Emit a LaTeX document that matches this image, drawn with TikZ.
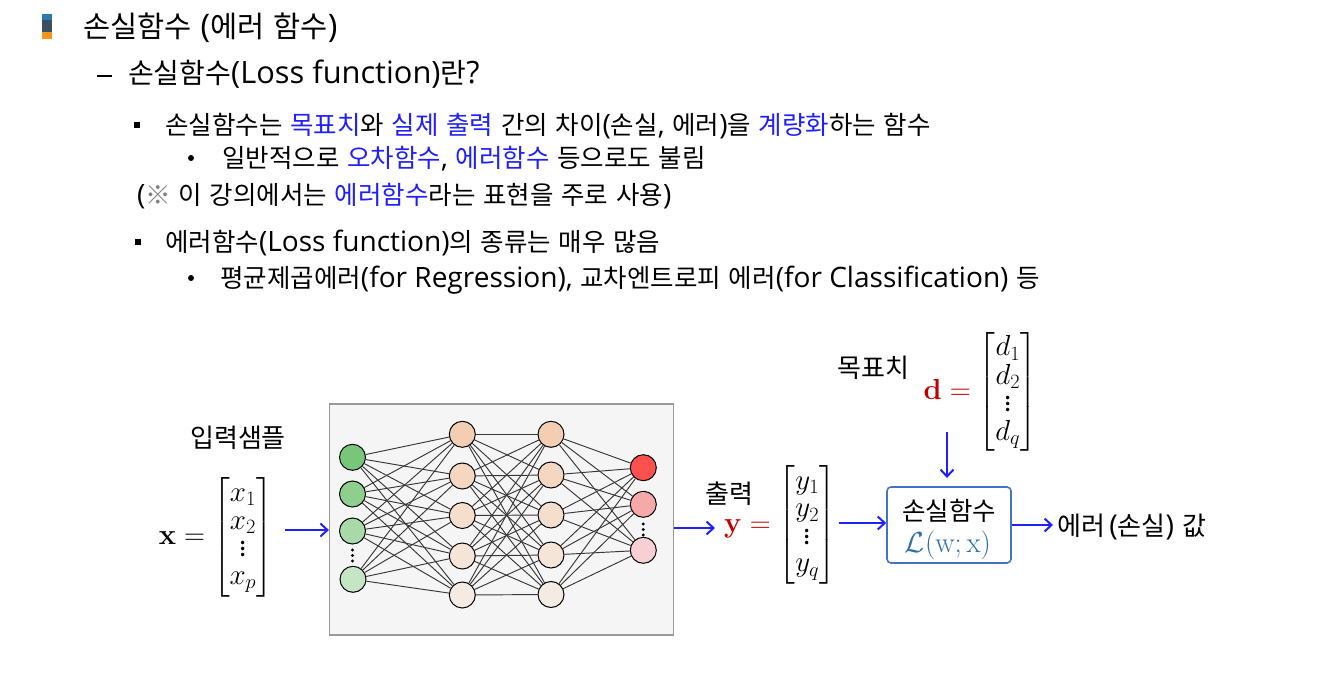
\RequirePackage{fix-cm}
\documentclass[tikz,border=0pt]{standalone}
\usepackage{amsmath}
\usepackage[no-math]{fontspec}
\setmainfont{Noto Sans CJK KR}[WordSpace=1.35]
\newfontfamily\lat{Open Sans}[Scale=1.1]
\usetikzlibrary{arrows.meta}
\definecolor{tblue}{HTML}{1F1FFF}
\definecolor{ablue}{HTML}{1F1FFF}
\definecolor{dred}{HTML}{C00000}
\definecolor{lossblue}{HTML}{2E6FA8}
\definecolor{boxblue}{HTML}{4472C4}
\definecolor{icA}{HTML}{2B7BB0}
\definecolor{icB}{HTML}{3D4F5F}
\definecolor{icC}{HTML}{F7941D}
\definecolor{in1}{HTML}{78C679}
\definecolor{in2}{HTML}{8ECF8E}
\definecolor{in3}{HTML}{A8DAA8}
\definecolor{in4}{HTML}{C5E6C5}
\definecolor{hd1}{HTML}{F4CEB2}
\definecolor{hd2}{HTML}{F5D7C1}
\definecolor{hd3}{HTML}{F5DECB}
\definecolor{hd4}{HTML}{F5E5D8}
\definecolor{hd5}{HTML}{F4EBE3}
\definecolor{ou1}{HTML}{FF5050}
\definecolor{ou2}{HTML}{F7A9AA}
\definecolor{ou3}{HTML}{F8CFD3}
\newcommand{\hl}[1]{\textcolor{tblue}{#1}}
\newcommand{\fs}[1]{\fontsize{#1}{#1}\selectfont}
\newcommand{\mfs}{\fontsize{29}{30}\selectfont\renewcommand{\arraystretch}{0.92}}
\newcommand{\vd}{\vbox{\baselineskip=6pt\lineskiplimit=0pt\kern2pt\hbox{\fs{26}.}\hbox{\fs{26}.}\hbox{\fs{26}.}}}
\begin{document}
\begin{tikzpicture}[x=1pt,y=-1pt,
  txt/.style={anchor=base west, inner sep=0pt},
  arr/.style={draw=ablue, line width=2pt, -{Straight Barb[length=7pt,width=13pt]}},
  nn/.style={circle, draw=black, line width=1pt, minimum size=26pt, inner sep=0pt},
  nnedge/.style={draw=black!78, line width=0.95pt},
  dotm/.style={circle, fill=black, inner sep=0pt, minimum size=3.2pt},
]
\fill[white] (0,0) rectangle (1321,692);
\useasboundingbox (0,0) rectangle (1321,692);

% title icon
\fill[icA] (42,14) rectangle (52,20);
\fill[icB] (42,20) rectangle (52,32);
\fill[icC] (42,32) rectangle (52,39);

\node[txt, font=\fs{29.5}] (title) at (83,38) {손실함수 {\lat(}에러 함수{\lat)}};

\draw[line width=1.5pt] (97,76) -- (112,76);
\node[txt, font=\fs{28}] (l2) at (128,83.5) {손실함수{\lat(Loss function)}란{\lat?}};

\fill (134,122) rectangle (140,128);
\node[txt, font=\fs{25.5}] (l3) at (165,134.7) {손실함수는 \hl{목표치}와 \hl{실제 출력} 간의 차이{\lat(}손실{\lat,} 에러{\lat)}을 \hl{계량화}하는 함수};

\fill (191,158) circle (3);
\node[txt, font=\fs{25.5}] (l4) at (222,167.7) {일반적으로 \hl{오차함수}{\lat,} \hl{에러함수} 등으로도 불림};

\node[txt, font=\fs{25.5}] (l5) at (137,204.7) {{\lat(}\textcolor{gray}{※} 이 강의에서는 \hl{에러함수}라는 표현을 주로 사용{\lat)}};

\fill (135,239) rectangle (141,245);
\node[txt, font=\fs{25.5}] (l6) at (165,251.7) {에러함수{\lat(Loss function)}의 종류는 매우 많음};

\fill (191,278) circle (3);
\node[txt, font=\fs{25.5}] (l7) at (220,287.7) {평균제곱에러{\lat(for Regression),} 교차엔트로피 에러{\lat(for Classification)} 등};

% input
\node[txt, font=\fs{26}] (inlbl) at (190,447) {입력샘플};
\node[inner sep=0pt, anchor=east, font=\mfs] (xm) at (273,537.5) {$\mathbf{x}=\begin{bmatrix}x_1\\x_2\\\vd\\x_p\end{bmatrix}$};

% network box
\node[draw=black!40, fill=black!4, line width=1.2pt, minimum width=344pt, minimum height=231pt, inner sep=0pt] (nnbox) at (501.5,519.5) {};

\node[nn, fill=in1] (i1) at (352.5,457.3) {};
\node[nn, fill=in2] (i2) at (352.5,494) {};
\node[nn, fill=in3] (i3) at (352.5,531) {};
\node[nn, fill=in4] (i4) at (353,579.3) {};
\node[nn, fill=hd1] (h1) at (462.3,434.3) {};
\node[nn, fill=hd2] (h2) at (462.3,476) {};
\node[nn, fill=hd3] (h3) at (462.3,515.5) {};
\node[nn, fill=hd4] (h4) at (462.3,556) {};
\node[nn, fill=hd5] (h5) at (462.3,595) {};
\node[nn, fill=hd1] (g1) at (551,434.3) {};
\node[nn, fill=hd2] (g2) at (551,475) {};
\node[nn, fill=hd3] (g3) at (551,515) {};
\node[nn, fill=hd4] (g4) at (551,555) {};
\node[nn, fill=hd5] (g5) at (551,594.5) {};
\node[nn, fill=ou1] (o1) at (643.3,467.7) {};
\node[nn, fill=ou2] (o2) at (643.3,504.3) {};
\node[nn, fill=ou3] (o3) at (643.3,550.3) {};

\foreach \a in {1,...,4}{\foreach \b in {1,...,5}{\draw[nnedge] (i\a) -- (h\b);}}
\foreach \a in {1,...,5}{\foreach \b in {1,...,5}{\draw[nnedge] (h\a) -- (g\b);}}
\foreach \a in {1,...,5}{\foreach \b in {1,...,3}{\draw[nnedge] (g\a) -- (o\b);}}

\node[dotm] (di1) at (352.5,550) {};
\node[dotm] (di2) at (352.5,555.5) {};
\node[dotm] (di3) at (352.5,561) {};
\node[dotm] (do1) at (643.3,524) {};
\node[dotm] (do2) at (643.3,529.5) {};
\node[dotm] (do3) at (643.3,535) {};

% output
\node[txt, font=\fs{26}] (outlbl) at (705,503) {출력};
\node[inner sep=0pt, anchor=east, font=\mfs] (ym) at (836,525) {$\textcolor{dred}{\mathbf{y}}\mathrel{\textcolor{dred}{=}}\begin{bmatrix}y_1\\y_2\\\vd\\y_q\end{bmatrix}$};

% target
\node[txt, font=\fs{26}] (tgtlbl) at (837,377) {목표치};
\node[inner sep=0pt, anchor=east, font=\mfs] (dm) at (1037,392) {$\textcolor{dred}{\mathbf{d}}\mathrel{\textcolor{dred}{=}}\begin{bmatrix}d_1\\d_2\\\vd\\d_q\end{bmatrix}$};

% loss box
\node[draw=boxblue, line width=1.6pt, rounded corners=4pt, minimum width=124pt, minimum height=76pt, fill=white, inner sep=0pt] (loss) at (949,525) {};
\node[font=\fs{25.5}, inner sep=0pt] (losst) at (949,511) {손실함수};
\node[font=\fs{29}, text=lossblue, inner sep=0pt] (lossf) at (948,545) {$\mathcal{L}(\mathrm{w};\mathrm{x})$};

\node[txt, font=\fs{26}] (errv) at (1057,535) {에러\,{\lat(}손실{\lat)} 값};

% arrows
\coordinate (a1s) at (285,530);
\draw[arr] (a1s) -- (a1s -| nnbox.west);
\coordinate (a2e) at (715,528);
\draw[arr] (a2e -| nnbox.east) -- (a2e);
\coordinate (a3s) at (839,523);
\draw[arr] (a3s) -- (a3s -| loss.west);
\coordinate (a4e) at (1053,525);
\draw[arr] (a4e -| loss.east) -- (a4e);
\coordinate (a5s) at (947,432);
\coordinate (a5e) at (947,478);
\draw[arr] (a5s) -- (a5e);
\end{tikzpicture}
\end{document}
